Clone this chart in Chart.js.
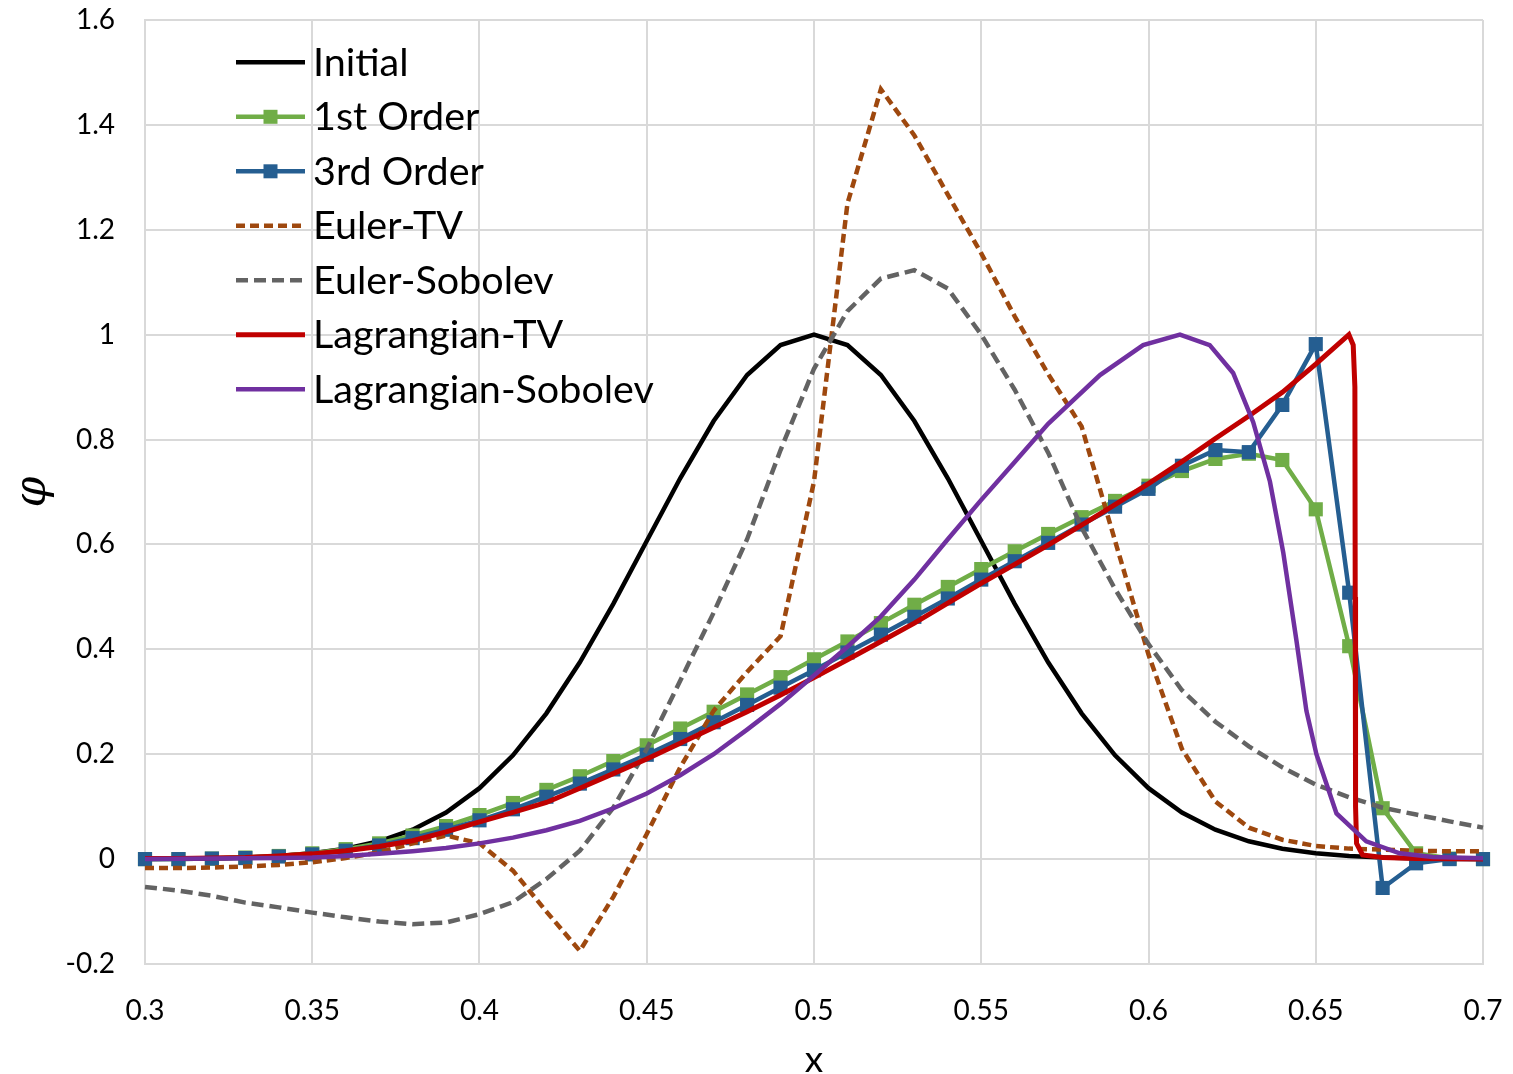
<!DOCTYPE html>
<html>
<head>
<meta charset="utf-8">
<title>phi</title>
<script src="https://cdn.jsdelivr.net/npm/chart.js@4.4.1/dist/chart.umd.min.js"></script>
<style>
  html, body { margin: 0; padding: 0; background: #fff; }
  #divGrafica { width: 1513px; height: 1074px; }
</style>
</head>
<body>
<div id="divGrafica"><canvas id="grafica" width="1513" height="1074"></canvas></div>
<script>
// valores
var xGrid = [0.30,0.31,0.32,0.33,0.34,0.35,0.36,0.37,0.38,0.39,0.40,0.41,0.42,0.43,0.44,0.45,0.46,0.47,0.48,0.49,0.50,
             0.51,0.52,0.53,0.54,0.55,0.56,0.57,0.58,0.59,0.60,0.61,0.62,0.63,0.64,0.65,0.66,0.67,0.68,0.69,0.70];

var initialY = [0.0003,0.0007,0.0015,0.0031,0.006,0.0111,0.0198,0.034,0.0561,0.0889,0.1353,0.1979,0.278,0.3753,0.4868,0.6065,0.7261,0.8353,0.9231,0.9802,1.0,
                0.9802,0.9231,0.8353,0.7261,0.6065,0.4868,0.3753,0.278,0.1979,0.1353,0.0889,0.0561,0.034,0.0198,0.0111,0.006,0.0031,0.0015,0.0007,0.0003];

var firstOrderY = [0.0,0.0,0.001,0.003,0.006,0.011,0.019,0.03,0.045,0.063,0.084,0.107,0.132,0.158,0.187,0.217,0.249,0.281,0.314,0.347,0.381,
                   0.415,0.45,0.485,0.519,0.553,0.587,0.62,0.652,0.683,0.712,0.74,0.763,0.773,0.761,0.667,0.406,0.097,0.011,0.001,0.0];

var thirdOrderY = [0.0,0.0,0.001,0.002,0.005,0.009,0.016,0.026,0.04,0.056,0.074,0.095,0.119,0.144,0.171,0.199,0.229,0.261,0.294,0.327,0.36,
                   0.394,0.428,0.462,0.497,0.533,0.568,0.603,0.638,0.672,0.706,0.75,0.78,0.776,0.866,0.982,0.508,-0.055,-0.008,0.0,0.0];

var eulerTvY = [-0.017,-0.017,-0.016,-0.014,-0.011,-0.006,0.002,0.013,0.03,0.045,0.03,-0.022,-0.1,-0.175,-0.072,0.048,0.175,0.283,0.357,0.425,0.72,
                1.25,1.468,1.38,1.267,1.155,1.035,0.925,0.825,0.607,0.39,0.21,0.11,0.06,0.037,0.025,0.02,0.018,0.016,0.015,0.015];

var eulerSobY = [-0.053,-0.06,-0.07,-0.083,-0.092,-0.102,-0.111,-0.119,-0.124,-0.121,-0.105,-0.082,-0.038,0.016,0.098,0.21,0.34,0.47,0.61,0.78,0.935,
                 1.045,1.107,1.123,1.088,1.0,0.895,0.775,0.632,0.515,0.41,0.322,0.262,0.215,0.175,0.142,0.118,0.098,0.085,0.072,0.06];

var lagTvX = [0.30,0.31,0.32,0.33,0.34,0.35,0.36,0.37,0.38,0.39,0.40,0.41,0.42,0.43,0.44,0.45,0.46,0.47,0.48,0.49,0.50,
              0.51,0.52,0.53,0.54,0.55,0.56,0.57,0.58,0.59,0.60,0.61,0.62,0.63,0.64,0.65,
              0.6599,0.6612,0.6617,0.6618,0.6619,0.6622,0.664,0.67,0.68,0.69,0.70];
var lagTvY = [0.001,0.001,0.002,0.003,0.006,0.01,0.016,0.024,0.035,0.052,0.071,0.089,0.108,0.135,0.163,0.191,0.221,0.251,0.281,0.313,0.346,
              0.38,0.415,0.45,0.488,0.526,0.562,0.599,0.637,0.676,0.716,0.758,0.802,0.845,0.89,0.944,
              1.0,0.98,0.9,0.5,0.1,0.03,0.008,0.003,0.001,0.0005,0.0002];

var lagSobX = [0.30,0.31,0.32,0.33,0.34,0.35,0.36,0.37,0.38,0.39,0.40,0.41,0.42,0.43,0.44,0.45,0.46,0.47,0.48,0.49,0.50,
               0.51,0.52,0.53,0.54,0.55,0.56,0.57,0.5855,0.5984,0.6094,0.6183,0.6253,0.6313,0.6363,0.6403,0.6442,0.6472,0.6502,
               0.6562,0.6651,0.6751,0.685,0.70];
var lagSobY = [0.0,0.0005,0.001,0.0015,0.002,0.003,0.006,0.01,0.015,0.021,0.03,0.041,0.055,0.073,0.097,0.125,0.16,0.2,0.247,0.296,0.35,
               0.405,0.463,0.533,0.61,0.685,0.757,0.83,0.923,0.98,1.0,0.98,0.927,0.833,0.72,0.584,0.418,0.283,0.2,
               0.087,0.034,0.011,0.004,0.0015];

var nombres = ['Initial','1st Order','3rd Order','Euler-TV','Euler-Sobolev','Lagrangian-TV','Lagrangian-Sobolev'];
var xTicks = ['0.3','0.35','0.4','0.45','0.5','0.55','0.6','0.65','0.7'];
var yTicks = ['-0.2','0','0.2','0.4','0.6','0.8','1','1.2','1.4','1.6'];

function pares(xs, ys){
  var out = [];
  for (var i = 0; i < xs.length; i++) out.push({x: xs[i], y: ys[i]});
  return out;
}

function serie(i, xs, ys, color, ancho, extra){
  var ds = {
    label: nombres[i],
    data: pares(xs, ys),
    showLine: true,
    borderColor: color,
    backgroundColor: color,
    borderWidth: ancho,
    pointRadius: 0,
    pointHoverRadius: 0,
    tension: 0,
    clip: false,
    order: 7 - i
  };
  for (var k in extra) ds[k] = extra[k];
  return ds;
}

var marcador = {pointStyle: 'rect', pointRadius: 10, pointBorderWidth: 0};

var datasets = [
  serie(0, xGrid, initialY, '#000000', 4.5, {}),
  serie(1, xGrid, firstOrderY, '#70ad47', 4.5, marcador),
  serie(2, xGrid, thirdOrderY, '#255e91', 4.5, marcador),
  serie(3, xGrid, eulerTvY, '#9e480e', 4.5, {borderDash: [9, 5]}),
  serie(4, xGrid, eulerSobY, '#636363', 4.5, {borderDash: [12, 6]}),
  serie(5, lagTvX, lagTvY, '#c00000', 5, {}),
  serie(6, lagSobX, lagSobY, '#7030a0', 4.5, {})
];

// leyenda dentro del area, a mano
var leyenda = {
  id: 'leyenda',
  afterDraw: function(chart){
    var ctx = chart.ctx;
    ctx.save();
    chart.data.datasets.forEach(function(ds, i){
      var y = 62.3 + i * 54.5;
      ctx.strokeStyle = ds.borderColor;
      ctx.lineWidth = ds.borderWidth;
      ctx.setLineDash(ds.borderDash || []);
      ctx.beginPath();
      ctx.moveTo(236, y);
      ctx.lineTo(305, y);
      ctx.stroke();
      if (ds.pointRadius > 0){
        ctx.fillStyle = ds.backgroundColor;
        ctx.fillRect(270.5 - 7, y - 7, 14, 14);
      }
      ctx.fillStyle = '#000';
      ctx.font = '39.5px Lato';
      ctx.textBaseline = 'alphabetic';
      ctx.textAlign = 'left';
      ctx.fillText(ds.label, 313, y + 13.5);
    });
    ctx.restore();
  }
};

var grafica = new Chart(document.getElementById('grafica'), {
  type: 'scatter',
  data: {datasets: datasets},
  options: {
    responsive: false,
    animation: false,
    devicePixelRatio: 1,
    layout: {padding: {top: 20, right: 30, bottom: 0, left: 0}},
    plugins: {legend: {display: false}, tooltip: {enabled: false}},
    scales: {
      x: {
        type: 'linear',
        min: 0.3,
        max: 0.7,
        afterFit: function(s){ s.height = 110; s.paddingLeft = 0; s.paddingRight = 0; },
        grid: {color: '#d9d9d9', lineWidth: 2, drawTicks: false},
        border: {color: '#d9d9d9', width: 2},
        ticks: {
          stepSize: 0.05,
          autoSkip: false,
          maxRotation: 0,
          padding: 30,
          color: '#000',
          font: {family: 'Lato', size: 28},
          callback: function(v){ return xTicks[Math.round((v - 0.3) / 0.05)]; }
        },
        title: {
          display: true,
          text: 'x',
          color: '#000',
          font: {family: 'Lato', size: 37, lineHeight: 0.7},
          padding: {top: 0, bottom: 1}
        }
      },
      y: {
        min: -0.2,
        max: 1.6,
        afterFit: function(s){ s.width = 145; s.paddingTop = 0; s.paddingBottom = 0; },
        grid: {color: '#d9d9d9', lineWidth: 2, drawTicks: false},
        border: {color: '#d9d9d9', width: 2},
        ticks: {
          stepSize: 0.2,
          padding: 30,
          color: '#000',
          font: {family: 'Lato', size: 28},
          callback: function(v){ return yTicks[Math.round((v + 0.2) / 0.2)]; }
        },
        title: {
          display: true,
          text: 'φ',
          color: '#000',
          font: {family: 'DejaVu Serif', style: 'italic', size: 44, lineHeight: 1},
          padding: {top: 12, bottom: 0}
        }
      }
    }
  },
  plugins: [leyenda]
});
</script>
</body>
</html>
